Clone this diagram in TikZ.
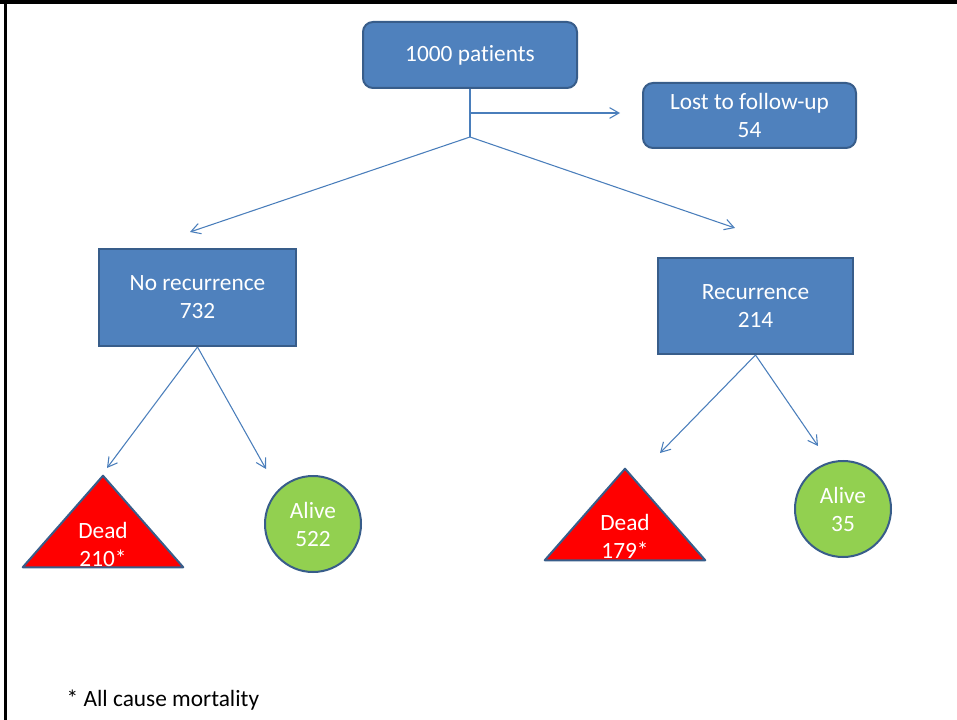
\documentclass[tikz,border=0pt]{standalone}
\usepackage{fontspec}
\setmainfont{Carlito}[Ligatures={NoCommon,NoContextual,NoRare}]
\usepackage{tikz}
\usetikzlibrary{arrows.meta}
\definecolor{BoxBlue}   {RGB}{79, 129, 189}
\definecolor{EdgeBlue}  {RGB}{56,  93, 138}
\definecolor{LineBlue}  {RGB}{74, 126, 187}
\definecolor{DeadRed}   {RGB}{255,  0,   0}
\definecolor{AliveGreen}{RGB}{146, 208, 80}

\begin{document}
\begin{tikzpicture}[
  x=0.75pt, y=-0.75pt,
  txt/.style={
    text=white, align=center,
    font=\fontsize{17.5}{21}\selectfont},
  box/.style={txt,
    draw=EdgeBlue, fill=BoxBlue,
    line width=1.5pt, inner sep=0pt},
  rbox/.style={box,
    rounded corners=7.5pt},
  alive/.style={txt, circle,
    draw=EdgeBlue, fill=AliveGreen,
    line width=1.5pt,
    minimum size=72pt, inner sep=0pt},
  deadbox/.style={
    minimum width=120pt,
    minimum height=68.25pt,
    inner sep=0pt},
  dead/.style={
    draw=EdgeBlue, fill=DeadRed,
    line width=1.5pt, line join=round},
  link/.style={
    draw=LineBlue, line width=0.8pt},
  arrow/.style={link,
    -{Straight Barb[length=7pt, width=8pt]}}
]

\useasboundingbox (0,0) rectangle (957,720);
\draw[line width=3pt] (0,2) -- (957,2);
\draw[line width=2pt] (5.5,0) -- (5.5,720);

\node[rbox, minimum width=160.5pt,
  minimum height=49.5pt] (patients)
  at (470,55) {1000 pat\kern0pt ients};
\node[rbox, minimum width=159.75pt,
  minimum height=48.75pt] (lost)
  at (749.5,115.5) {Lost to follow-up\\54};

\node[box, minimum width=147.75pt,
  minimum height=72.75pt] (norec)
  at (197.5,297.5) {No recurrence\\732};
\node[box, minimum width=146.25pt,
  minimum height=72pt] (rec)
  at (755.5,306) {Recurrence\\214};

\node[deadbox] (dead1) at (103,521.5) {};
\draw[dead] (dead1.south west) -- (dead1.north)
  -- (dead1.south east) -- cycle;
\node[txt] (dead1txt) at (103,544) {Dead\\210*};
\node[alive] (alive1) at (313,524) {Alive\\522};

\node[deadbox] (dead2) at (625,514.5) {};
\draw[dead] (dead2.south west) -- (dead2.north)
  -- (dead2.south east) -- cycle;
\node[txt] (dead2txt) at (625,536.5) {Dead\\179*};
\node[alive] (alive2) at (843,509) {Alive\\35};

\coordinate (mid)   at (470,113);
\coordinate (split) at (470,137);
\coordinate (lostin) at (620,113);
\coordinate (lefttip)  at (190,232);
\coordinate (righttip) at (735,228);
\coordinate (d1tip) at (107,468);
\coordinate (a1tip) at (266,469);
\coordinate (d2tip) at (660,453);
\coordinate (a2tip) at (818,446);

\draw[link] (patients) -- (split);
\draw[arrow] (mid) -- (lostin);
\draw[arrow] (split) -- (lefttip);
\draw[arrow] (split) -- (righttip);
\draw[arrow] (norec.south) -- (d1tip);
\draw[arrow] (norec.south) -- (a1tip);
\draw[arrow] (rec.south) -- (d2tip);
\draw[arrow] (rec.south) -- (a2tip);

\node[anchor=west,
  font=\fontsize{17.5}{21}\selectfont]
  (note) at (62,700) {* All cause mortality};

\end{tikzpicture}
\end{document}
